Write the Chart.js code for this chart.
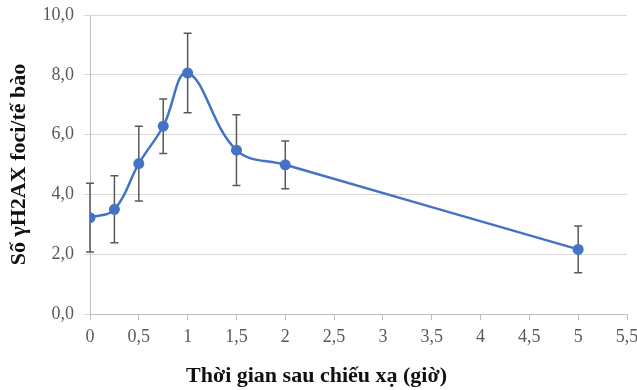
<!doctype html>
<html lang="vi">
<head>
<meta charset="utf-8">
<title>γH2AX foci</title>
<script src="https://cdn.jsdelivr.net/npm/chart.js@4/dist/chart.umd.min.js"></script>
<style>
  html, body { margin: 0; padding: 0; background: #fff; overflow: hidden; }
  #wrap { width: 637px; height: 390px; }
</style>
</head>
<body>
<div id="wrap"><canvas id="c" width="637" height="390"></canvas></div>
<script>
// thời gian (giờ) và số foci trung bình, sai số
const hours = [0, 0.25, 0.5, 0.75, 1, 1.5, 2, 5];
const fociMean = [3.22, 3.50, 5.03, 6.28, 8.06, 5.48, 4.99, 2.16];
const fociErr = [1.15, 1.12, 1.25, 0.91, 1.33, 1.18, 0.80, 0.78];

const serif = "'Liberation Serif', 'Times New Roman', serif";
const comma = v => String(v).replace('.', ',');

// vẽ thanh sai số qua các trục của biểu đồ
const errorBars = {
  id: 'errorBars',
  beforeDatasetsDraw(chart) {
    const ctx = chart.ctx;
    const xs = chart.scales.x, ys = chart.scales.y;
    ctx.save();
    ctx.strokeStyle = '#595959';
    ctx.lineWidth = 1.5;
    hours.forEach((h, i) => {
      const px = xs.getPixelForValue(h);
      const top = ys.getPixelForValue(fociMean[i] + fociErr[i]);
      const bot = ys.getPixelForValue(fociMean[i] - fociErr[i]);
      ctx.beginPath();
      ctx.moveTo(px, top); ctx.lineTo(px, bot);
      ctx.moveTo(px - 4, top); ctx.lineTo(px + 4, top);
      ctx.moveTo(px - 4, bot); ctx.lineTo(px + 4, bot);
      ctx.stroke();
    });
    ctx.restore();
  }
};

new Chart('c', {
  type: 'line',
  data: {
    datasets: [{
      data: hours.map((h, i) => ({ x: h, y: fociMean[i] })),
      borderColor: '#4472C4',
      backgroundColor: '#4472C4',
      borderWidth: 2.5,
      pointRadius: 5.5,
      pointBorderWidth: 0,
      tension: 0.4,
      fill: false
    }]
  },
  options: {
    responsive: false,
    animation: false,
    layout: { padding: { left: 6, right: 10, top: 15, bottom: 0 } },
    plugins: {
      legend: { display: false },
      tooltip: { enabled: false },
      title: {
        display: true,
        position: 'bottom',
        text: 'Thời gian sau chiếu xạ (giờ)',
        color: '#111',
        font: { family: serif, size: 22, weight: 'bold' },
        padding: { top: 10, bottom: 0 }
      }
    },
    scales: {
      x: {
        type: 'linear',
        min: 0, max: 5.5,
        afterFit(s) { s.paddingRight = 0; },
        ticks: { stepSize: 0.5, color: '#595959', font: { family: serif, size: 18 }, padding: 6, callback: v => comma(v) },
        grid: { drawOnChartArea: false, drawTicks: true, tickLength: 6, color: '#BFBFBF' },
        border: { color: '#BFBFBF' }
      },
      y: {
        min: 0, max: 10,
        afterFit(s) { s.width = 84; s.paddingTop = 0; s.paddingBottom = 0; },
        ticks: { stepSize: 2, color: '#595959', font: { family: serif, size: 18 }, padding: 10, callback: v => v.toFixed(1).replace('.', ',') },
        grid: { color: '#D9D9D9', tickLength: 6 },
        border: { color: '#BFBFBF' },
        title: {
          display: true,
          text: 'Số γH2AX foci/tế bào',
          color: '#111',
          font: { family: serif, size: 22, weight: 'bold' },
          padding: { top: 0, bottom: 0 }
        }
      }
    }
  },
  plugins: [errorBars]
});
</script>
</body>
</html>
